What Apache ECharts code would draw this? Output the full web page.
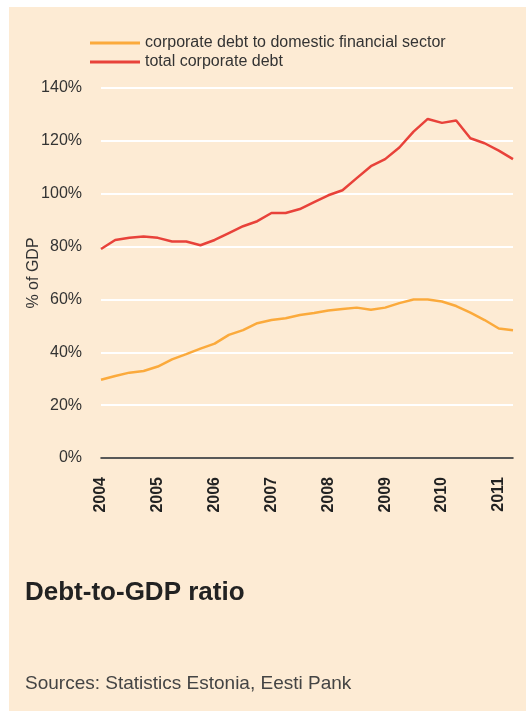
<!DOCTYPE html>
<html>
<head>
	<meta charset="utf-8">
	<title>Debt-to-GDP ratio</title>
	<script type="text/javascript" src="https://cdn.jsdelivr.net/npm/echarts@6/dist/echarts.min.js"></script>
	<style>
		html, body { margin: 0; padding: 0; background: #fff; }
	</style>
</head>

<body>
	<div style="height: 711px; width: 526px" id="debt"></div>

	<script type="text/javascript">
		// quarters 2004Q1 .. 2011Q2
		var quarters = [
			'2004Q1', '2004Q2', '2004Q3', '2004Q4',
			'2005Q1', '2005Q2', '2005Q3', '2005Q4',
			'2006Q1', '2006Q2', '2006Q3', '2006Q4',
			'2007Q1', '2007Q2', '2007Q3', '2007Q4',
			'2008Q1', '2008Q2', '2008Q3', '2008Q4',
			'2009Q1', '2009Q2', '2009Q3', '2009Q4',
			'2010Q1', '2010Q2', '2010Q3', '2010Q4',
			'2011Q1', '2011Q2'
		];
		// % of GDP
		var financialDebt = [
			29.6, 31.0, 32.3, 32.9, 34.6, 37.3, 39.3, 41.4,
			43.3, 46.6, 48.4, 51.0, 52.2, 52.9, 54.1, 54.9,
			55.8, 56.4, 56.9, 56.1, 56.9, 58.6, 60.0, 60.0,
			59.2, 57.5, 55.0, 52.2, 49.0, 48.3
		];
		var totalDebt = [
			79.1, 82.5, 83.3, 83.8, 83.3, 81.9, 81.9, 80.5,
			82.5, 85.1, 87.7, 89.6, 92.7, 92.7, 94.2, 96.8,
			99.4, 101.3, 105.9, 110.4, 113.1, 117.5, 123.5, 128.3,
			126.8, 127.7, 121.0, 119.1, 116.3, 113.1
		];
		var seriesNames = ['corporate debt to domestic financial sector', 'total corporate debt'];
		var yTicks = [0, 20, 40, 60, 80, 100, 120, 140];

		var font = "'Liberation Sans', Arial, sans-serif";
		var chart = echarts.init(document.getElementById('debt'));

		var option = {
			backgroundColor: '#fff',
			animation: false,
			textStyle: { fontFamily: font },
			color: ['#fbaa3c', '#e8423a'],
			graphic: [
				{
					type: 'rect', z: -10, silent: true,
					shape: { x: 9, y: 7, width: 517, height: 704 },
					style: { fill: '#fdebd4' }
				},
				{
					type: 'text', left: 25, top: 580,
					style: { text: 'Debt-to-GDP ratio', font: 'bold 26px ' + font, fill: '#222' }
				},
				{
					type: 'text', left: 25, top: 674,
					style: { text: 'Sources: Statistics Estonia, Eesti Pank', font: '19px ' + font, fill: '#444' }
				}
			],
			legend: {
				orient: 'vertical',
				left: 85,
				top: 30,
				itemWidth: 50,
				itemHeight: 3,
				itemGap: 3,
				icon: 'rect',
				textStyle: { fontSize: 16, color: '#333', fontFamily: font },
				data: seriesNames
			},
			grid: {
				left: 101,
				right: 13,
				top: 88,
				bottom: 253
			},
			xAxis: {
				type: 'category',
				boundaryGap: false,
				data: quarters,
				axisTick: { show: false },
				axisLine: { lineStyle: { color: '#222', width: 1.5 } },
				axisLabel: {
					interval: 3,
					rotate: 90,
					margin: 19,
					fontSize: 16,
					fontWeight: 'bold',
					color: '#222',
					formatter: function (v) { return v.slice(0, 4); }
				}
			},
			yAxis: {
				type: 'value',
				min: yTicks[0],
				max: yTicks[yTicks.length - 1],
				interval: 20,
				name: '% of GDP',
				nameLocation: 'middle',
				nameRotate: 90,
				nameGap: 59,
				nameMoveOverlap: false,
				nameTextStyle: { fontSize: 16, color: '#333' },
				axisLine: { show: false },
				axisTick: { show: false },
				axisLabel: { margin: 19, fontSize: 16, color: '#333', formatter: '{value}%' },
				splitLine: { lineStyle: { color: '#fff', width: 2 } }
			},
			series: [
				{
					name: seriesNames[0],
					type: 'line',
					data: financialDebt,
					showSymbol: false,
					lineStyle: { width: 2.5 }
				},
				{
					name: seriesNames[1],
					type: 'line',
					data: totalDebt,
					showSymbol: false,
					lineStyle: { width: 2.5 }
				}
			]
		};

		chart.setOption(option);
	</script>
</body>
</html>
